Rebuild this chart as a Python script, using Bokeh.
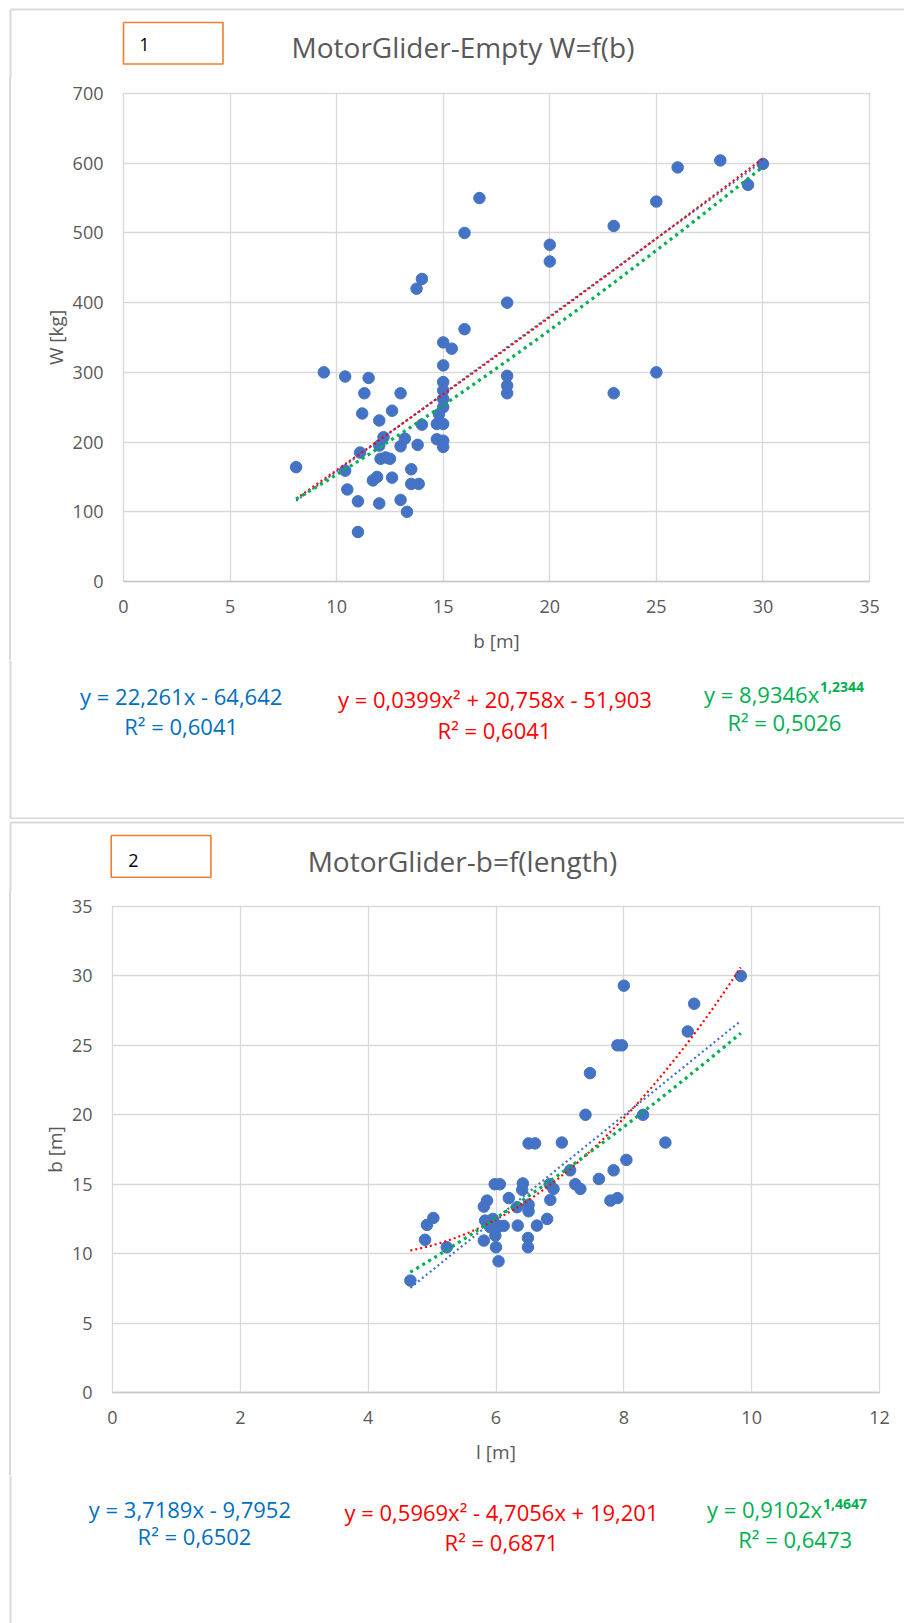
import numpy as np
from bokeh.plotting import figure
from bokeh.layouts import row
from bokeh.models import Label, FixedTicker, Range1d, Div
from bokeh.embed import file_html
from bokeh.resources import INLINE

# ---------------- Chart 1 : MotorGlider-Empty W=f(b) ----------------
b1 = [8.1, 9.4, 10.4, 10.4, 10.5, 11.0, 11.0, 11.1, 11.2, 11.3, 11.5, 11.7, 11.9,
      12.0, 12.0, 12.0, 12.06, 12.2, 12.3, 12.5, 12.6, 12.6, 13.0, 13.0, 13.0, 13.2,
      13.3, 13.5, 13.5, 13.75, 13.8, 13.85, 14.0, 14.0, 14.7, 14.7, 14.8, 15.0, 15.0,
      15.0, 15.0, 15.0, 15.0, 15.0, 15.0, 15.0, 15.4, 16.0, 16.0, 16.7, 18.0, 18.0,
      18.0, 18.0, 20.0, 20.0, 23.0, 23.0, 25.0, 25.0, 26.0, 28.0, 29.3, 30.0]
w1 = [164, 300, 294, 159, 132, 115, 71, 185, 241, 270, 292, 145, 150,
      231, 195, 112, 176, 207, 178, 176, 245, 149, 270, 194, 117, 205,
      100, 161, 140, 420, 196, 140, 434, 225, 226, 204, 240, 343, 310,
      286, 274, 262, 250, 226, 202, 193, 334, 500, 362, 550, 400, 295,
      281, 270, 483, 459, 510, 270, 545, 300, 594, 604, 569, 599]
lin1 = [22.261, -64.642]
poly1 = [0.0399, 20.758, -51.903]
pow1 = [8.9346, 1.2344]
x1_ticks = [0, 5, 10, 15, 20, 25, 30, 35]
y1_ticks = [0, 100, 200, 300, 400, 500, 600, 700]
eq1_text = ["y = 22,261x - 64,642", "R² = 0,6041",
            "y = 0,0399x² + 20,758x - 51,903", "R² = 0,6041",
            "y = 8,9346x", "1,2344", "R² = 0,5026"]

# ---------------- Chart 2 : MotorGlider-b=f(length) ----------------
l2 = [4.66, 4.89, 4.92, 5.02, 5.23, 5.81, 5.86, 5.81, 5.83, 5.91, 5.95, 5.98, 5.99,
      6.0, 6.02, 6.04, 6.06, 6.05, 6.12, 6.2, 6.33, 6.34, 6.41, 6.42, 6.5, 6.5, 6.51,
      6.51, 6.51, 6.61, 6.64, 6.8, 6.84, 6.85, 6.9, 7.03, 7.16, 7.24, 7.32, 7.4, 7.47,
      7.61, 7.79, 7.9, 7.84, 7.9, 7.97, 8.0, 8.04, 8.3, 8.65, 9.0, 9.1, 9.83]
b2 = [8.06, 11.0, 12.07, 12.57, 10.46, 13.39, 13.82, 10.94, 12.38, 11.9, 12.5, 15.0, 11.3,
      10.46, 11.9, 9.45, 15.0, 12.0, 12.0, 14.0, 13.34, 12.02, 14.6, 15.06, 11.13, 10.46, 13.53,
      13.05, 17.94, 17.94, 12.02, 12.5, 15.0, 13.87, 14.66, 18.0, 16.0, 15.0, 14.66, 20.0, 23.0,
      15.38, 13.82, 14.0, 16.0, 25.0, 25.0, 29.3, 16.75, 20.0, 18.0, 26.0, 28.0, 30.0]
lin2 = [3.7189, -9.7952]
poly2 = [0.5969, -4.7056, 19.201]
pow2 = [0.9102, 1.4647]
x2_ticks = [0, 2, 4, 6, 8, 10, 12]
y2_ticks = [0, 5, 10, 15, 20, 25, 30, 35]
eq2_text = ["y = 3,7189x - 9,7952", "R² = 0,6502",
            "y = 0,5969x² - 4,7056x + 19,201", "R² = 0,6871",
            "y = 0,9102x", "1,4647", "R² = 0,6473"]

FONT = "Open Sans"
GRAY = "#595959"
GRID = "#d9d9d9"
MARK = "#4472C4"
BLUE_T = "#0070C0"
RED = "#FF0000"
GREEN = "#00B050"
ORANGE = "#ED7D31"
STRIP_W = 12


def main_plot(xs, ys, lin, poly, pw, xr, yr, xt, yt, xlabel, ylabel, geom, height):
    L, R, T, B = geom
    p = figure(width=904 - STRIP_W, height=height, x_range=Range1d(*xr),
               y_range=Range1d(*yr), output_backend="svg", toolbar_location=None,
               min_border_left=L - STRIP_W, min_border_right=904 - R,
               min_border_top=T, min_border_bottom=height - B)
    p.background_fill_color = "white"
    p.border_fill_color = "white"
    p.outline_line_color = GRID
    p.outline_line_width = 1.3
    for ax in (p.xaxis[0], p.yaxis[0]):
        ax.major_tick_line_color = None
        ax.minor_tick_line_color = None
        ax.major_tick_out = 0
        ax.major_tick_in = 0
        ax.minor_tick_out = 0
        ax.minor_tick_in = 0
        ax.major_label_text_font = FONT
        ax.major_label_text_font_size = "18px"
        ax.major_label_text_color = GRAY
        ax.axis_label_text_font = FONT
        ax.axis_label_text_font_size = "19px"
        ax.axis_label_text_font_style = "normal"
        ax.axis_label_text_color = GRAY
    p.xaxis.ticker = FixedTicker(ticks=xt)
    p.yaxis.ticker = FixedTicker(ticks=yt)
    p.xaxis.axis_label = xlabel
    p.yaxis.axis_label = ylabel
    p.xaxis.axis_line_color = "#c8c8c8"
    p.xaxis.axis_line_width = 1.5
    p.yaxis.axis_line_color = None
    p.xaxis.major_label_standoff = 18
    p.yaxis.major_label_standoff = 20
    p.xaxis.axis_label_standoff = 12
    p.yaxis.axis_label_standoff = 1
    p.xgrid.ticker = FixedTicker(ticks=xt)
    p.ygrid.ticker = FixedTicker(ticks=yt)
    p.grid.grid_line_color = GRID
    p.grid.grid_line_width = 1.3

    p.scatter(xs, ys, size=11.5, color=MARK, line_color=MARK)
    xx = np.linspace(min(xs), max(xs), 200)
    p.line(xx, lin[0] * xx + lin[1], line_color=MARK, line_width=2.2, line_dash="2 3")
    p.line(xx, poly[0] * xx ** 2 + poly[1] * xx + poly[2], line_color=RED,
           line_width=2.2, line_dash="2 3")
    p.line(xx, pw[0] * xx ** pw[1], line_color=GREEN, line_width=3.2, line_dash="3 4")

    strip = Div(width=STRIP_W, height=height, margin=0,
                text=('<div style="margin:0 0 0 9px;padding:0;width:2px;height:%dpx;'
                      'background:#d9d9d9;"></div>' % height))
    return row(strip, p, spacing=0, margin=0)


def blank(height):
    p = figure(width=904, height=height, x_range=Range1d(0, 904),
               y_range=Range1d(height, 0), output_backend="svg",
               toolbar_location=None, min_border=0,
               x_axis_location=None, y_axis_location=None)
    p.grid.visible = False
    p.outline_line_color = None
    p.background_fill_color = "white"
    p.border_fill_color = "white"
    return p


def lab(p, text, x, y, color, size, align="center", style="normal"):
    p.add_layout(Label(x=x, y=y, text=text, text_font=FONT, text_font_size=size,
                       text_color=color, text_align=align, text_baseline="middle",
                       text_font_style=style))


def header(height, top, box, num, num_xy, title, title_xy):
    h = blank(height)
    h.line([10, 904], [top, top], line_color=GRID, line_width=2)
    h.line([10, 10], [top, height], line_color=GRID, line_width=2)
    l, t, r, b = box
    h.line([l, r, r, l, l], [t, t, b, b, t], line_color=ORANGE, line_width=1.6)
    lab(h, num, *num_xy, "black", "18px")
    lab(h, title, *title_xy, GRAY, "28px")
    return h


def footer(height, texts, pos, bottom=None):
    f = blank(height)
    f.line([10, 10], [0, bottom if bottom is not None else height],
           line_color=GRID, line_width=2)
    if bottom is not None:
        f.line([10, 904], [bottom, bottom], line_color=GRID, line_width=2)
    colors = [BLUE_T, BLUE_T, RED, RED, GREEN, GREEN, GREEN]
    for i, (t, c, xy) in enumerate(zip(texts, colors, pos)):
        if i == 4:
            lab(f, t, *xy, c, "22px", align="right")
        elif i == 5:
            lab(f, t, *xy, c, "14px", align="left", style="bold")
        else:
            lab(f, t, *xy, c, "22px")
    return f


# Panel 1
h1 = header(78, 9, (123, 22, 222.5, 63.5), "1", (144, 44),
            "MotorGlider-Empty W=f(b)", (462.5, 46.7))
m1 = main_plot(b1, w1, lin1, poly1, pow1, (0, 35), (0, 700), x1_ticks, y1_ticks,
               "b [m]", "W [kg]", (123, 869, 15, 503), 582)
f1 = footer(159, eq1_text,
            [(180.7, 35), (180.7, 65.7), (494.4, 38.3), (494, 69),
             (818.7, 33.3), (819.5, 26.5), (783.8, 61.7)], bottom=158)

# Panel 2
h2 = header(72, 3, (110.7, 16, 210.4, 57.7), "2", (133, 41),
            "MotorGlider-b=f(length)", (461.9, 41))
m2 = main_plot(l2, b2, lin2, poly2, pow2, (0, 12), (0, 35), x2_ticks, y2_ticks,
               "l [m]", "b [m]", (112, 879, 15, 501), 584)
f2 = footer(148, eq2_text,
            [(189.4, 33.3), (194, 60), (501, 36.7), (501, 66.7),
             (821.6, 33.3), (822.5, 28.5), (794.7, 63.3)])

open("out.html", "w").write(file_html([h1, m1, f1, h2, m2, f2], INLINE))
